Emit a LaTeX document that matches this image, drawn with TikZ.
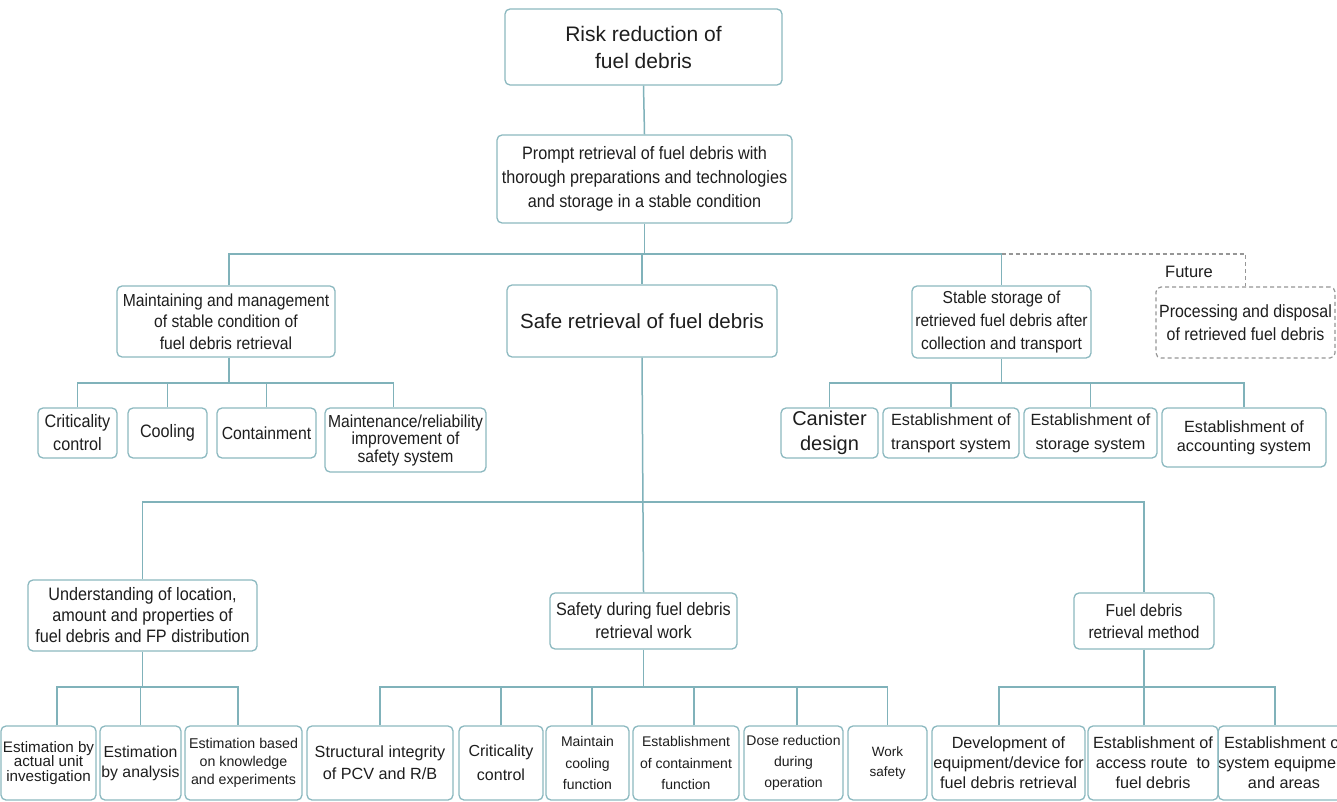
\documentclass[tikz,border=0pt]{standalone}
\usepackage{fontspec}
\setmainfont{Liberation Sans}
\newfontfamily\nar{Liberation Sans}[FakeStretch=0.9]
\definecolor{ln}{RGB}{128,178,186}
\definecolor{bd}{RGB}{140,185,192}
\definecolor{tx}{RGB}{30,30,30}
\definecolor{dsh}{RGB}{150,150,150}
\tikzset{
  bx/.style={draw=bd, line width=1.3pt, rounded corners=5pt, fill=white, align=center, inner sep=0pt, text=tx},
  cn/.style={draw=ln, line width=1.5pt},
  dcn/.style={draw=dsh, line width=1.2pt, dash pattern=on 4pt off 3pt},
  dbox/.style={draw=dsh, line width=1.2pt, dash pattern=on 4pt off 3pt}
}
\newcommand\bxn[7]{\node[bx,#7,minimum width={#4-#2}, minimum height={#5-#3}] (#1) at ({(#2+#4)/2},{(#3+#5)/2}) {#6};}
\begin{document}
\begin{tikzpicture}[x=1pt,y=-1pt]
\useasboundingbox (0,0) rectangle (1337,802);
\fill[white] (0,0) rectangle (1337,802);
% level 0-1
\bxn{risk}{505}{9}{782}{85}{Risk reduction of\\fuel debris}{font={\fontsize{21}{27}\selectfont}}
\bxn{prompt}{497}{135}{792}{223}{Prompt retrieval of fuel debris with\\thorough preparations and technologies\\and storage in a stable condition}{font={\nar\fontsize{18}{24}\selectfont}}
% level 2
\bxn{maint}{117}{286}{335}{357}{Maintaining and management\\of stable condition of\\fuel debris retrieval}{font={\nar\fontsize{17.4}{21.5}\selectfont}}
\bxn{safe}{507}{285}{777}{357}{Safe retrieval of fuel debris}{font={\fontsize{20.5}{24}\selectfont}}
\bxn{stable}{912}{286}{1091}{358}{Stable storage of\\retrieved fuel debris after\\collection and transport}{font={\nar\fontsize{17.3}{23}\selectfont}}
\bxn{proc}{1156}{287}{1335}{358}{Processing and disposal\\of retrieved fuel debris}{dbox,font={\nar\fontsize{17.7}{23}\selectfont}}
\node[anchor=west, text=tx, font={\fontsize{16.5}{20}\selectfont}, inner sep=0pt] (fut) at (1165,272) {Future};
% left children
\bxn{c1}{38}{408}{117}{458}{Criticality\\control}{font={\nar\fontsize{18}{23}\selectfont}}
\bxn{c2}{128}{408}{207}{458}{Cooling}{font={\nar\fontsize{18}{23}\selectfont}}
\bxn{c3}{217}{408}{316}{458}{Containment}{font={\nar\fontsize{17.5}{23}\selectfont}}
\bxn{c4}{325}{408}{486}{472}{Maintenance/reliability\\improvement of\\safety system}{font={\nar\fontsize{17.4}{17.5}\selectfont}}
% right children
\bxn{r1}{781}{408}{878}{458}{Canister\\design}{font={\fontsize{20}{25}\selectfont}}
\bxn{r2}{883}{408}{1019}{458}{Establishment of\\transport system}{font={\fontsize{16.2}{24}\selectfont}}
\bxn{r3}{1024}{408}{1157}{458}{Establishment of\\storage system}{font={\fontsize{16.2}{24}\selectfont}}
\bxn{r4}{1162}{408}{1326}{467}{Establishment of\\accounting system}{font={\fontsize{16.2}{19}\selectfont}}
% level 3
\bxn{und}{28}{580}{257}{651}{Understanding of location,\\amount and properties of\\fuel debris and FP distribution}{font={\nar\fontsize{18}{21}\selectfont}}
\bxn{saf}{550}{593}{737}{649}{Safety during fuel debris\\retrieval work}{font={\nar\fontsize{18}{23}\selectfont}}
\bxn{meth}{1074}{593}{1214}{649}{Fuel debris\\retrieval method}{font={\nar\fontsize{17.2}{22}\selectfont}}
% bottom
\bxn{e1}{1}{726}{96}{800}{Estimation by\\actual unit\\investigation}{font={\fontsize{15.2}{14.5}\selectfont}}
\bxn{e2}{100}{726}{181}{800}{Estimation\\by analysis}{font={\fontsize{15.8}{20}\selectfont}}
\bxn{e3}{185}{726}{302}{800}{Estimation based\\on knowledge\\and experiments}{font={\fontsize{14.2}{18}\selectfont}}
\bxn{s1}{307}{726}{453}{800}{Structural integrity\\of PCV and R/B}{font={\fontsize{16.2}{22}\selectfont}}
\bxn{s2}{459}{726}{543}{800}{Criticality\\control}{font={\fontsize{16}{24}\selectfont}}
\bxn{s3}{546}{726}{629}{800}{Maintain\\cooling\\function}{font={\fontsize{14}{21.5}\selectfont}}
\bxn{s4}{633}{726}{739}{800}{Establishment\\of containment\\function}{font={\fontsize{14}{21.5}\selectfont}}
\bxn{s5}{744}{726}{843}{800}{Dose reduction\\during\\operation}{font={\fontsize{14}{21}\selectfont}}
\bxn{s6}{848}{726}{927}{800}{Work\\safety}{font={\fontsize{13.5}{20}\selectfont}}
\bxn{m1}{932}{726}{1085}{800}{Development of\\equipment/device for\\fuel debris retrieval}{font={\fontsize{16.2}{20}\selectfont}}
\bxn{m2}{1088}{726}{1218}{800}{Establishment of\\access route\ \ to\\fuel debris}{font={\fontsize{16.2}{20}\selectfont}}
\bxn{m3}{1223}{726}{1345}{800}{Establishment of\\system equipment\\and areas}{font={\fontsize{16.2}{20}\selectfont}}
% bus levels
\coordinate (busA) at (0,254);
\coordinate (busB) at (0,383);
\coordinate (busC) at (0,502);
\coordinate (busD) at (0,687);
% shifted drop points
\coordinate (mt) at ([xshift=3pt]maint.north);
\coordinate (ms) at ([xshift=3pt]maint.south);
\coordinate (c4t) at ([xshift=-12pt]c4.north);
\coordinate (e1t) at ([xshift=8.5pt]e1.north);
\coordinate (e3t) at ([xshift=-5.5pt]e3.north);
\coordinate (s3t) at ([xshift=4.5pt]s3.north);
\coordinate (s4t) at ([xshift=8pt]s4.north);
\coordinate (s5t) at ([xshift=3.5pt]s5.north);
\coordinate (m1t) at ([xshift=-9.5pt]m1.north);
\coordinate (m2t) at ([xshift=-9pt]m2.north);
\coordinate (m3t) at ([xshift=-9pt]m3.north);
% connectors
\draw[cn] (risk.south) -- (prompt.north);
\draw[cn] (prompt.south) -- (prompt.south |- busA);
\draw[cn] (mt) -- (mt |- busA) -- (stable.north |- busA) -- (stable.north);
\draw[cn] (safe.north |- busA) -- (safe.north);
\draw[dcn] (stable.north |- busA) -| (proc.north);
\draw[cn] (ms) -- (ms |- busB);
\draw[cn] (c1.north) -- (c1.north |- busB) -- (c4t |- busB) -- (c4t);
\draw[cn] (c2.north) -- (c2.north |- busB);
\draw[cn] (c3.north) -- (c3.north |- busB);
\draw[cn] (stable.south) -- (stable.south |- busB);
\draw[cn] (r1.north) -- (r1.north |- busB) -- (r4.north |- busB) -- (r4.north);
\draw[cn] (r2.north) -- (r2.north |- busB);
\draw[cn] (r3.north) -- (r3.north |- busB);
\draw[cn] (safe.south) -- (saf.north);
\draw[cn] (und.north) -- (und.north |- busC) -- (meth.north |- busC) -- (meth.north);
\draw[cn] (und.south) -- (und.south |- busD);
\draw[cn] (e1t) -- (e1t |- busD) -- (e3t |- busD) -- (e3t);
\draw[cn] (e2.north) -- (e2.north |- busD);
\draw[cn] (saf.south) -- (saf.south |- busD);
\draw[cn] (s1.north) -- (s1.north |- busD) -- (s6.north |- busD) -- (s6.north);
\draw[cn] (s2.north) -- (s2.north |- busD);
\draw[cn] (s3t) -- (s3t |- busD);
\draw[cn] (s4t) -- (s4t |- busD);
\draw[cn] (s5t) -- (s5t |- busD);
\draw[cn] (meth.south) -- (meth.south |- busD);
\draw[cn] (m1t) -- (m1t |- busD) -- (m3t |- busD) -- (m3t);
\draw[cn] (m2t) -- (m2t |- busD);
\end{tikzpicture}
\end{document}
